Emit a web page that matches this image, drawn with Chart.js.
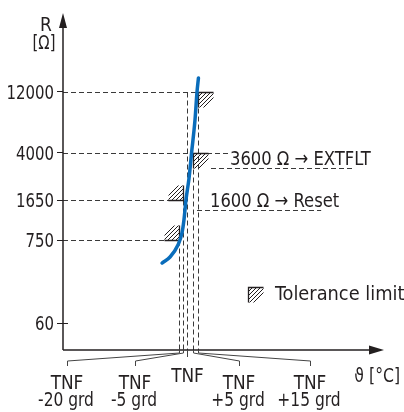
<!DOCTYPE html>
<html>
<head>
<meta charset="utf-8">
<script src="https://cdn.jsdelivr.net/npm/chart.js@4.4.0/dist/chart.umd.min.js"></script>
<style>
  html, body { margin: 0; padding: 0; background: #fff; }
</style>
</head>
<body>
<canvas id="myChart" width="404" height="412"></canvas>
<script>
// resistance ticks on the R axis (ohm)
var rTicks = [60, 750, 1650, 4000, 12000];
// tolerance corners: temperature offset from TNF (K) and resistance (ohm)
var tolTemps = [-20, -5, 5, 15];
var tolRes = [750, 1650, 4000, 12000];
var tolNames = [["TNF", "-20 grd"], ["TNF", "-5 grd"], ["TNF", "+5 grd"], ["TNF", "+15 grd"]];
// switching thresholds
var thrRes = [3600, 1600];
var thrText = ["3600 Ω → EXTFLT", "1600 Ω → Reset"];
// PTC sensor curve
var curveT = [-31.7, -26.2, -20.7, -8.8, -3.8, -1.3, 1.7, 3.8, 9, 13, 15.2];
var curveR = [372, 447, 644, 896, 1243, 1650, 2820, 4000, 7250, 12000, 17500];

var FONT = '"DejaVu Sans Condensed", "Liberation Sans", sans-serif';
var INK = '#231f20';

// schematic (not to scale) axes: piecewise mapping value -> fraction of axis
var warpAnchors = {
  x: [[-100, 0], [-20, 0.3625], [-5, 0.375], [0, 0.3875], [5, 0.40625], [15, 0.4219], [100, 1]],
  y: [[10, 0], [60, 0.0801], [750, 0.3264], [1600, 0.4154], [1650, 0.4451],
      [3600, 0.5401], [4000, 0.5846], [12000, 0.7656], [100000, 1]]
};

class WarpScale extends Chart.LinearScale {
  static id = 'warp';
  toDecimal(v) {
    var a = warpAnchors[this.id];
    var lg = this.id === 'y';
    var f = function (t) { return lg ? Math.log10(t) : t; };
    var t = f(v);
    var i = 1;
    while (i < a.length - 1 && t > f(a[i][0])) i++;
    var t0 = f(a[i - 1][0]), t1 = f(a[i][0]);
    return a[i - 1][1] + (t - t0) / (t1 - t0) * (a[i][1] - a[i - 1][1]);
  }
  getPixelForValue(v) {
    return this.getPixelForDecimal(this.toDecimal(v));
  }
}
Chart.register(WarpScale);

function seg(ctx, x1, y1, x2, y2) {
  ctx.beginPath();
  ctx.moveTo(x1, y1);
  ctx.lineTo(x2, y2);
  ctx.stroke();
}

// the drawing uses a condensed face; squeeze the text horizontally
function squeeze(ctx, text, x, y, align, sx) {
  var w = ctx.measureText(text).width * sx;
  var left = align === 'center' ? x - w / 2 : align === 'right' ? x - w : x;
  ctx.save();
  ctx.textAlign = 'left';
  ctx.translate(left, y);
  ctx.scale(sx, 1);
  ctx.fillText(text, 0, 0);
  ctx.restore();
  return w;
}

// hatched tolerance corner, dir = 1 -> box right/below, -1 -> box left/above
function hatchBox(ctx, cx, cy, dir) {
  var s = 15;
  ctx.save();
  ctx.setLineDash([]);
  ctx.strokeStyle = INK;
  ctx.lineWidth = 1;
  ctx.beginPath();
  ctx.rect(dir > 0 ? cx : cx - s, dir > 0 ? cy : cy - s, s, s);
  ctx.clip();
  for (var k = 4; k <= 22; k += 4) {
    if (dir > 0) seg(ctx, cx + k, cy, cx, cy + k);
    else seg(ctx, cx - k, cy, cx, cy - k);
  }
  ctx.restore();
  ctx.save();
  ctx.setLineDash([]);
  ctx.strokeStyle = INK;
  ctx.lineWidth = 1.3;
  ctx.beginPath();
  ctx.moveTo(cx + dir * s, cy);
  ctx.lineTo(cx, cy);
  ctx.lineTo(cx, cy + dir * s);
  ctx.stroke();
  ctx.restore();
}

var thrLeft = [32, 12];      // label start, px right of the +15 line
var lineStart = [-19, -13];  // dashed leader start relative to label
var labelX = [67, 135, 239, 310];

var schematic = {
  id: 'schematic',
  beforeDatasetsDraw: function (chart) {
    var ctx = chart.ctx, x = chart.scales.x, y = chart.scales.y, area = chart.chartArea;
    var r = function (v) { return Math.round(v) + 0.5; };
    ctx.save();
    ctx.strokeStyle = '#3a3a3a';
    ctx.lineWidth = 1;
    ctx.setLineDash([5, 3]);
    ctx.font = '20px ' + FONT;
    ctx.fillStyle = INK;

    var x15 = x.getPixelForValue(15);
    var thrX = [];
    thrText.forEach(function (t, i) {
      var lx = x15 + thrLeft[i];
      var py = r(y.getPixelForValue(thrRes[i]));
      var w = squeeze(ctx, t, lx, py - 4, 'left', 0.91);
      thrX.push(lx);
      seg(ctx, lx + lineStart[i], py, lx + w - 18, py);
    });

    tolRes.forEach(function (res, i) {
      var px = r(x.getPixelForValue(tolTemps[i]));
      var py = r(y.getPixelForValue(res));
      var end = res === 4000 ? thrX[0] - 2 : px;
      seg(ctx, area.left, py, end, py);
      seg(ctx, px, py, px, area.bottom);
    });
    // TNF itself
    var p0 = r(x.getPixelForValue(0));
    seg(ctx, p0, r(y.getPixelForValue(12000)), p0, area.bottom);

    tolRes.forEach(function (res, i) {
      var px = r(x.getPixelForValue(tolTemps[i]));
      var py = r(y.getPixelForValue(res));
      hatchBox(ctx, px, py, tolTemps[i] > 0 ? 1 : -1);
    });
    ctx.restore();
  },
  afterDraw: function (chart) {
    var ctx = chart.ctx, x = chart.scales.x, y = chart.scales.y, area = chart.chartArea;
    var L = area.left, B = area.bottom;
    ctx.save();
    ctx.strokeStyle = INK;
    ctx.fillStyle = INK;
    ctx.setLineDash([]);
    // axes with arrow heads
    ctx.lineWidth = 1.5;
    seg(ctx, L, B, L, 26);
    seg(ctx, L, B, 372, B);
    ctx.beginPath();
    ctx.moveTo(L, 13); ctx.lineTo(L - 4, 28); ctx.lineTo(L + 4, 28); ctx.closePath(); ctx.fill();
    ctx.beginPath();
    ctx.moveTo(384, B); ctx.lineTo(369, B - 4.5); ctx.lineTo(369, B + 4.5); ctx.closePath(); ctx.fill();
    // right half of the 60 tick
    ctx.lineWidth = 1;
    var y60 = Math.round(y.getPixelForValue(60)) + 0.5;
    seg(ctx, L, y60, L + 5, y60);

    ctx.font = '20px ' + FONT;
    // R tick labels
    rTicks.forEach(function (v) {
      squeeze(ctx, String(v), L - 9, y.getPixelForValue(v) + 7, 'right', 0.83);
    });
    squeeze(ctx, 'R', 46, 31, 'center', 0.95);
    squeeze(ctx, '[Ω]', 44, 49, 'center', 0.82);
    squeeze(ctx, 'ϑ [°C]', 400, 382, 'right', 0.87);

    // brackets from the TNF lines to their labels
    ctx.lineWidth = 1;
    ctx.strokeStyle = '#444';
    tolTemps.forEach(function (t, i) {
      var px = Math.round(x.getPixelForValue(t)) + 0.5;
      ctx.beginPath();
      ctx.moveTo(px, B);
      ctx.lineTo(px, B + 3);
      ctx.lineTo(labelX[i] + 0.5, B + 11);
      ctx.lineTo(labelX[i] + 0.5, B + 16);
      ctx.stroke();
    });
    var p0 = Math.round(x.getPixelForValue(0)) + 0.5;
    seg(ctx, p0, B, p0, B + 7);

    tolNames.forEach(function (n, i) {
      squeeze(ctx, n[0], labelX[i], 389, 'center', 0.94);
      squeeze(ctx, n[1], labelX[i] - 1, 406, 'center', 0.86);
    });
    squeeze(ctx, 'TNF', p0, 382, 'center', 0.94);

    // legend
    hatchBox(ctx, 248.5, 287.5, 1);
    squeeze(ctx, 'Tolerance limit', 275, 300, 'left', 0.99);
    ctx.restore();
  }
};

new Chart('myChart', {
  type: 'line',
  data: {
    datasets: [{
      data: curveT.map(function (t, i) { return { x: t, y: curveR[i] }; }),
      borderColor: '#0a6dbb',
      borderWidth: 3.5,
      borderCapStyle: 'round',
      pointRadius: 0,
      cubicInterpolationMode: 'monotone'
    }]
  },
  options: {
    responsive: false,
    animation: false,
    events: [],
    layout: { padding: { top: 13, right: 21, left: 0, bottom: 0 } },
    plugins: {
      legend: { display: false },
      tooltip: { enabled: false }
    },
    scales: {
      x: {
        type: 'warp',
        min: -100,
        max: 100,
        grid: { display: false },
        border: { display: false },
        ticks: { display: false },
        afterFit: function (s) { s.height = 62; }
      },
      y: {
        type: 'warp',
        min: 10,
        max: 100000,
        grid: { drawOnChartArea: false, tickLength: 6, color: INK, lineWidth: 1 },
        border: { display: false },
        ticks: { display: false },
        afterBuildTicks: function (s) {
          s.ticks = rTicks.map(function (v) { return { value: v }; });
        },
        afterFit: function (s) { s.width = 63; }
      }
    }
  },
  plugins: [schematic]
});
</script>
</body>
</html>
